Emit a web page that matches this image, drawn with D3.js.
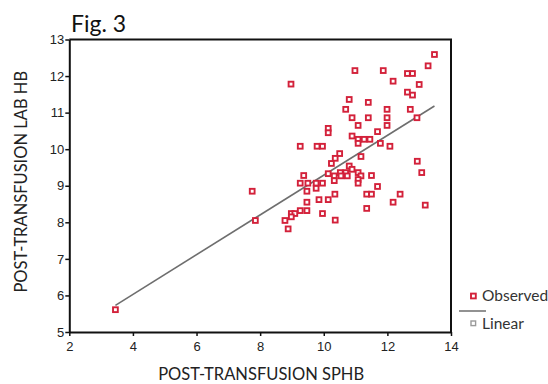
<!DOCTYPE html>
<html>
<head>
<meta charset="utf-8">
<script src="https://cdn.jsdelivr.net/npm/d3@7"></script>
<style>
  body { margin: 0; background: #fff; }
  svg { display: block; }
</style>
</head>
<body>
<svg id="drawing_region"></svg>
<script>
const sphb = [13.48, 13.28, 10.98, 11.87, 12.63, 12.79, 8.97, 12.18, 13.00, 12.63,
  12.79, 10.80, 11.40, 10.69, 11.99, 12.72, 10.89, 11.40, 11.99, 12.93,
  11.08, 11.99, 10.14, 10.14, 11.69, 10.89, 11.08, 11.27, 11.45, 11.08,
  11.78, 9.26, 9.79, 9.96, 12.08, 10.50, 11.17, 10.36, 10.24, 12.94,
  13.08, 10.80, 10.89, 10.14, 10.52, 10.69, 11.08, 9.37, 10.33, 10.54,
  10.74, 11.17, 11.50, 10.33, 11.08, 9.26, 9.50, 9.76, 9.96, 11.08,
  9.76, 11.69, 7.75, 9.47, 10.35, 11.35, 11.50, 12.40, 9.85, 10.14,
  9.47, 12.18, 13.19, 11.35, 9.26, 9.47, 8.98, 9.09, 8.98, 9.96,
  7.85, 8.78, 10.36, 8.88, 3.45];
const labHb = [12.59, 12.28, 12.15, 12.15, 12.07, 12.07, 11.78, 11.86, 11.77, 11.56,
  11.48, 11.36, 11.28, 11.09, 11.09, 11.09, 10.86, 10.86, 10.86, 10.86,
  10.65, 10.65, 10.57, 10.45, 10.48, 10.36, 10.27, 10.27, 10.27, 10.16,
  10.16, 10.08, 10.08, 10.08, 10.08, 9.88, 9.80, 9.75, 9.61, 9.67,
  9.36, 9.54, 9.45, 9.33, 9.36, 9.36, 9.36, 9.28, 9.27, 9.27,
  9.27, 9.27, 9.28, 9.14, 9.17, 9.07, 9.07, 9.07, 9.07, 9.07,
  8.93, 8.98, 8.85, 8.85, 8.77, 8.77, 8.77, 8.77, 8.62, 8.62,
  8.55, 8.55, 8.47, 8.38, 8.32, 8.32, 8.24, 8.24, 8.15, 8.24,
  8.05, 8.05, 8.06, 7.82, 5.61];

// linear fit endpoints
const fitX = [3.45, 13.48];
const fitY = [5.73, 11.18];

const xTicks = [2, 4, 6, 8, 10, 12, 14];
const yTicks = [5, 6, 7, 8, 9, 10, 11, 12, 13];
const legendLabels = ["Observed", "Linear"];

const config = {
  width: 548,
  height: 384,
  left: 69.3, right: 451, top: 39.5, bottom: 332
};

const RED = "#d3213a";
const GRAY = "#6e6e6e";

const svg = d3.select("#drawing_region")
  .attr("width", config.width)
  .attr("height", config.height);

const xscale = d3.scaleLinear().domain([2, 14]).range([config.left, config.right]);
const yscale = d3.scaleLinear().domain([5, 13]).range([config.bottom, config.top]);

// frame (top and right)
svg.append("path")
  .attr("d", `M${config.left},${config.top}H${config.right}V${config.bottom}`)
  .attr("fill", "none")
  .attr("stroke", "#111")
  .attr("stroke-width", 2);

// axes
const xaxis = d3.axisBottom(xscale).tickValues(xTicks).tickSize(4).tickSizeOuter(0);
const yaxis = d3.axisLeft(yscale).tickValues(yTicks).tickSize(4).tickSizeOuter(0);

const xg = svg.append("g")
  .attr("transform", `translate(0, ${config.bottom})`)
  .call(xaxis);
const yg = svg.append("g")
  .attr("transform", `translate(${config.left}, 0)`)
  .call(yaxis);

[xg, yg].forEach(g => {
  g.select(".domain").attr("stroke", "#111").attr("stroke-width", 2);
  g.selectAll(".tick line").attr("stroke", "#111").attr("stroke-width", 1.5);
  g.selectAll(".tick text")
    .attr("fill", "#222")
    .attr("font-family", "'Liberation Sans', Arial, sans-serif")
    .attr("font-size", "13px");
});
xg.selectAll(".tick text").attr("dy", "0.95em");
yg.selectAll(".tick text").attr("x", -5);

// fit line
svg.append("line")
  .attr("x1", xscale(fitX[0])).attr("y1", yscale(fitY[0]))
  .attr("x2", xscale(fitX[1])).attr("y2", yscale(fitY[1]))
  .attr("stroke", GRAY)
  .attr("stroke-width", 1.6);

// observed points
const pts = sphb.map((d, i) => [d, labHb[i]]);
svg.append("g").selectAll("rect")
  .data(pts)
  .enter()
  .append("rect")
  .attr("x", d => xscale(d[0]) - 2.4)
  .attr("y", d => yscale(d[1]) - 2.4)
  .attr("width", 4.8)
  .attr("height", 4.8)
  .attr("fill", "#fff")
  .attr("stroke", RED)
  .attr("stroke-width", 1.9);

// title
svg.append("text")
  .attr("x", 71)
  .attr("y", 31.5)
  .attr("font-family", "Lato, 'Open Sans', sans-serif")
  .attr("font-size", "23px")
  .attr("fill", "#111")
  .text("Fig. 3");

// axis titles
svg.append("text")
  .attr("x", (config.left + config.right) / 2 + 1)
  .attr("y", 379.5)
  .attr("text-anchor", "middle")
  .attr("font-family", "Lato, 'Open Sans', sans-serif")
  .attr("font-size", "16.5px")
  .attr("fill", "#222")
  .text("POST-TRANSFUSION SPHB");

svg.append("text")
  .attr("transform", `translate(27, ${(config.top + config.bottom) / 2 - 4}) rotate(-90)`)
  .attr("text-anchor", "middle")
  .attr("font-family", "Lato, 'Open Sans', sans-serif")
  .attr("font-size", "16.5px")
  .attr("fill", "#222")
  .text("POST-TRANSFUSION LAB HB");

// legend
const legend = svg.append("g");
legend.append("rect")
  .attr("x", 471).attr("y", 293.6).attr("width", 4.8).attr("height", 4.8)
  .attr("fill", "#fff").attr("stroke", RED).attr("stroke-width", 1.9);
legend.append("line")
  .attr("x1", 459).attr("x2", 486).attr("y1", 311).attr("y2", 311)
  .attr("stroke", GRAY).attr("stroke-width", 1.5);
legend.append("rect")
  .attr("x", 471).attr("y", 321).attr("width", 4.6).attr("height", 4.6)
  .attr("fill", "#fff").attr("stroke", "#999").attr("stroke-width", 1.4);
legend.selectAll("text.lg")
  .data(legendLabels)
  .enter()
  .append("text")
  .attr("class", "lg")
  .attr("x", 482)
  .attr("y", (d, i) => 301 + i * 28)
  .attr("font-family", "Lato, 'Open Sans', sans-serif")
  .attr("font-size", "15.5px")
  .attr("fill", "#333")
  .text(d => d);
</script>
</body>
</html>
